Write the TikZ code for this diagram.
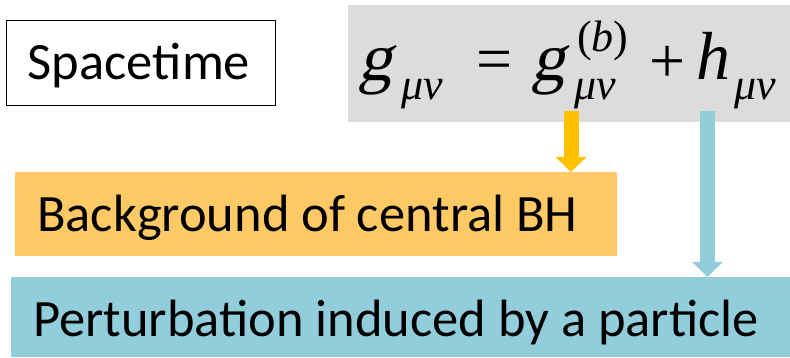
\documentclass[tikz,border=0pt]{standalone}
\usepackage{fontspec}
\setmainfont{Carlito}
\newfontfamily\mathserif{Liberation Serif}
\newfontfamily\slantserif[FakeSlant=0.22]{Liberation Serif}
\usetikzlibrary{arrows.meta}
\definecolor{eqgray}{HTML}{DCDCDC}
\definecolor{arroworange}{HTML}{FFC000}
\definecolor{boxorange}{HTML}{FFC966}
\definecolor{boxblue}{HTML}{92CDDC}
\tikzset{
  box/.style={rectangle, inner sep=0pt, anchor=north west},
  lbl/.style={inner sep=0pt, anchor=base west, font=\fontsize{52.5}{60}\selectfont},
  big/.style={inner sep=0pt, anchor=base west, font=\slantserif\fontsize{68}{74}\selectfont},
  bigh/.style={inner sep=0pt, anchor=base west, font=\mathserif\itshape\fontsize{68}{74}\selectfont},
  small/.style={inner sep=0pt, anchor=base west, font=\mathserif\itshape\fontsize{44}{48}\selectfont},
  op/.style={inner sep=0pt, anchor=center, font=\mathserif\fontsize{64}{70}\selectfont},
  blockarrow/.style={line width=15pt, -{Triangle[width=30pt,length=15pt]}},
}
\begin{document}
\begin{tikzpicture}[x=1pt,y=-1pt]
\useasboundingbox (0,0) rectangle (790,358);
% boxes
\node[box, draw=black, line width=1.3pt, minimum width=269pt, minimum height=85pt] (st) at (6,20) {};
\node[inner sep=0pt, anchor=base, font=\fontsize{52.5}{60}\selectfont] (sttext) at (139,80) {Spacetime};
\node[box, fill=eqgray, minimum width=442pt, minimum height=117pt] (eq) at (348,5) {};
\node[box, fill=boxorange, minimum width=602pt, minimum height=84pt] (bg) at (15,172) {};
\node[lbl] (bgtext) at (37,232) {Background of central BH};
\node[box, fill=boxblue, minimum width=779pt, minimum height=80pt] (pt) at (11,277) {};
\node[lbl] (pttext) at (33,336) {Perturbation induced by a particle};
% equation
\node[big] (g1) at (358,81) {g};
\node[small] (s1) at (401,100) {μν};
\node[op] (eqs) at (495,66) {=};
\node[big] (g2) at (531,81) {g};
\node[small] (sup2) at (577,52) {\mathserif\upshape(\itshape b\upshape)};
\node[small] (s2) at (574,100) {μν};
\node[op] (plus) at (668,64) {+};
\node[bigh] (h) at (696,80) {h};
\node[small] (s3) at (734,100) {μν};
% arrows
\coordinate (a1) at (571,111);
\coordinate (a2) at (707.5,111);
\draw[blockarrow, arroworange] (a1) -- (a1 |- bg.north);
\draw[blockarrow, boxblue] (a2) -- (a2 |- pt.north);
\end{tikzpicture}
\end{document}
